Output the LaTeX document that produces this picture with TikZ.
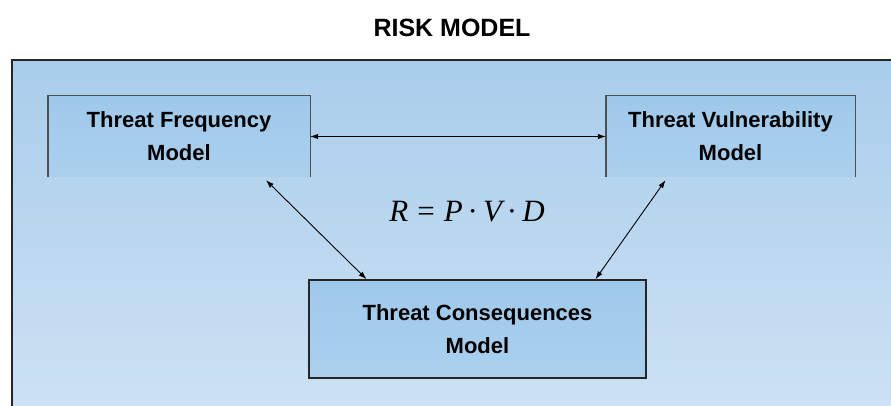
\documentclass[tikz,border=0pt]{standalone}
\usepackage{fontspec}
\setmainfont{Liberation Sans}
\newfontfamily\eqfont{Liberation Serif}
\usetikzlibrary{arrows.meta,calc}
\definecolor{bgtop}{HTML}{A8CDEB}
\definecolor{bgbot}{HTML}{CDE1F4}
\definecolor{boxtop}{HTML}{9EC8EA}
\definecolor{boxbot}{HTML}{ABD0EE}
\definecolor{edgegray}{HTML}{505050}
\begin{document}
\begin{tikzpicture}[x=1pt,y=-1pt,
  modelbox/.style={top color=boxtop, bottom color=boxbot, align=center, inner sep=0pt,
    font=\bfseries\fontsize{22}{33}\selectfont},
  openedge/.style={draw=edgegray, line width=1.4pt},
  link/.style={line width=0.9pt, {Latex[length=8pt,width=5.5pt]}-{Latex[length=8pt,width=5.5pt]}}
]
\useasboundingbox (0,0) rectangle (891,406);
\shade[top color=bgtop, bottom color=bgbot] (12,60) rectangle (891,406);
\draw[line width=1.8pt, black!85] (12,408) -- (12,60) -- (893,60);

\node[font=\bfseries\fontsize{25}{30}\selectfont] (title) at (452,28) {RISK MODEL};

\node[modelbox, minimum width=262pt, minimum height=81pt] (f) at (179,136.5) {Threat Frequency\\Model};
\draw[openedge] (f.south west) -- (f.north west) -- (f.north east) -- (f.south east);

\node[modelbox, minimum width=249pt, minimum height=81pt] (v) at (730.5,136.5) {Threat Vulnerability\\Model};
\draw[openedge] (v.south west) -- (v.north west) -- (v.north east) -- (v.south east);

\node[modelbox, draw=black!85, line width=1.6pt, minimum width=337pt, minimum height=98pt] (c) at (477.5,329) {Threat Consequences\\Model};

\node[font=\eqfont\fontsize{31}{36}\selectfont, inner sep=0pt] (eq) at (467,212)
  {\itshape R\hspace{9pt}\upshape=\hspace{9pt}\itshape P\hspace{5pt}\upshape·\hspace{5pt}\itshape V\hspace{5pt}\upshape·\hspace{5pt}\itshape D};

\draw[link] (f.east) -- (v.west);
\draw[link] ([xshift=87pt,yshift=-3pt]f.south) -- ([xshift=-111pt]c.north);
\draw[link] ([xshift=-65pt,yshift=-3pt]v.south) -- ([xshift=118pt]c.north);
\end{tikzpicture}
\end{document}
